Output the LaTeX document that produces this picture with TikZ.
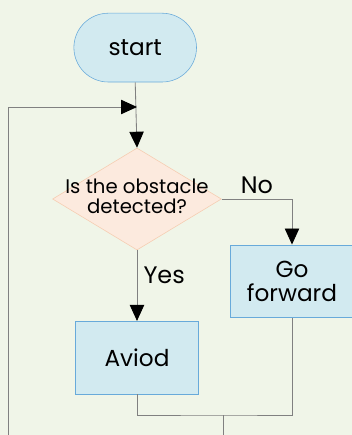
\documentclass[tikz,border=0pt]{standalone}
\usepackage{fontspec}
\setmainfont{Poppins}
\usetikzlibrary{positioning,shapes.geometric,shapes.misc,arrows.meta}

\definecolor{bgcol}{RGB}{240,245,232}
\definecolor{boxfill}{RGB}{210,234,240}
\definecolor{boxline}{RGB}{104,170,218}
\definecolor{decfill}{RGB}{252,234,222}
\definecolor{decline}{RGB}{246,204,176}
\definecolor{flowcol}{RGB}{128,128,128}

\begin{document}
\begin{tikzpicture}[
  font=\fontsize{16.5}{17}\selectfont,
  >={Triangle[length=0.4cm,width=0.36cm,color=black]},
  term/.style={rounded rectangle, draw=boxline, fill=boxfill, thin,
               minimum width=3.3cm, minimum height=1.72cm},
  proc/.style={rectangle, draw=boxline, fill=boxfill, thin, align=center,
               minimum width=3.08cm, minimum height=1.82cm},
  dec/.style={diamond, draw=decline, fill=decfill, thin, inner sep=0pt,
              minimum width=4.22cm, minimum height=2.55cm,
              font=\fontsize{14}{14}\selectfont},
  lbl/.style={font=\fontsize{17}{17}\selectfont},
  flow/.style={draw=flowcol, line width=0.6pt},
]
\useasboundingbox[fill=bgcol] (0,0) rectangle (8.8,-10.875);

\node[term] (start) at (3.38,-1.19) {start};
\node[dec] (obst) at (3.425,-4.975)
  {\makebox[0pt]{\renewcommand\arraystretch{0.9}\begin{tabular}{@{}c@{}}Is the obstacle\\detected?\end{tabular}}};
\node[proc] (fwd) at (7.3,-7.03) {Go\\forward};
\node[proc] (avoid) at (3.425,-8.94) {Aviod};

% loop back and merge points
\coordinate (loop) at (3.425,-2.675);
\coordinate (merge) at (5.575,-10.375);
\coordinate (mergeend) at (5.575,-10.875);
\coordinate (loopend) at (0.2,-10.875);

\draw[flow, ->] (start.south) -- (obst.north);
\draw[flow, ->] (loopend) |- (loop);
\draw[flow, ->] (obst.east) -| (fwd.north) node[lbl, pos=0.25, above] {No};
\draw[flow, ->] (obst.south) -- (avoid.north) node[lbl, pos=0.36, right=1pt] {Yes};
\draw[flow] (avoid.south) |- (merge) -| (fwd.south);
\draw[flow] (merge) -- (mergeend);

\end{tikzpicture}
\end{document}
